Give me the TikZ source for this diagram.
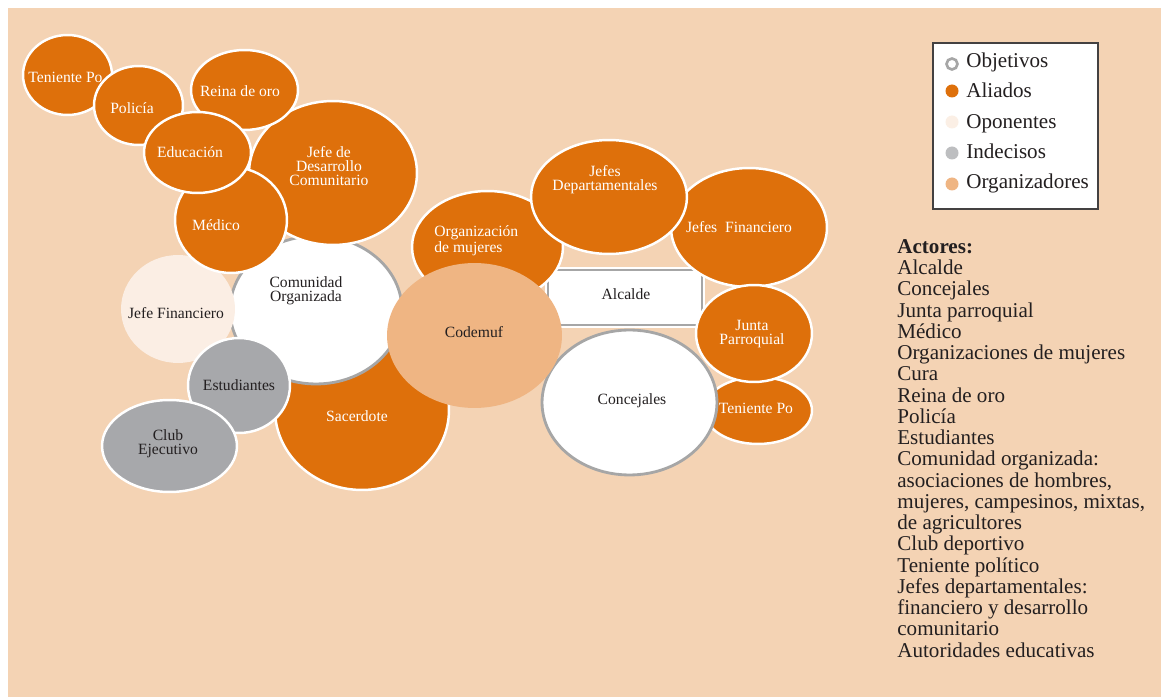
\documentclass[tikz,border=0pt]{standalone}
\usepackage{fontspec}
\setmainfont{Liberation Serif}
\usetikzlibrary{shapes.geometric}

\definecolor{fondo}{HTML}{F4D3B4}
\definecolor{naranja}{HTML}{DE700B}
\definecolor{crema}{HTML}{FBEEE4}
\definecolor{gris}{HTML}{A7A8AB}
\definecolor{durazno}{HTML}{EFB583}
\definecolor{borde}{HTML}{A6A6A6}
\definecolor{tinta}{HTML}{231F20}

\tikzset{
  bub/.style 2 args={ellipse, minimum width=#1*0.04cm, minimum height=#2*0.04cm, inner sep=0pt},
  aliado/.style={fill=naranja, draw=white, line width=1.4pt},
  objetivo/.style={fill=white, draw=borde, line width=1.6pt},
  oponente/.style={fill=crema},
  indeciso/.style={fill=gris, draw=white, line width=1.4pt},
  organizador/.style={fill=durazno},
  lbl/.style={align=center, inner sep=0pt, text=tinta, font=\fontsize{8.9}{7.9}\selectfont},
  lblw/.style={lbl, text=white},
  leyenda/.style={inner sep=0pt, text=tinta, font=\fontsize{12}{12.1}\selectfont},
  punto/.style={circle, inner sep=0pt, minimum size=13*0.02cm}
}

\begin{document}
\begin{tikzpicture}[x=0.02cm, y=-0.02cm]
  \useasboundingbox (0,0) rectangle (1161,699);
  \fill[fondo] (8,8) rectangle (1161,697);

  % burbujas, de atras hacia adelante
  \node[aliado, bub={87}{80}] (sac) at (362,410) {};
  \node[objetivo, bub={86}{74}] (com) at (316,310) {};
  \node[oponente, bub={57}{54}] (jfin) at (178,309) {};
  \node[aliado, bub={44.5}{40}] (tenA) at (67.5,75) {};
  \node[aliado, bub={44.5}{39.5}] (pol) at (138.5,105.5) {};
  \node[aliado, bub={84}{72}] (jdc) at (333,173) {};
  \node[aliado, bub={53.5}{40}] (reina) at (244.5,90) {};
  \node[aliado, bub={56}{53}] (med) at (231,220) {};
  \node[aliado, bub={53.5}{40.5}] (edu) at (197.5,152.5) {};
  \node[indeciso, bub={51}{47.5}] (est) at (239,385.5) {};
  \node[indeciso, bub={67.5}{46}] (club) at (169.5,446) {};
  \node[objetivo, line width=1.3pt, preaction={draw=white, line width=3.4pt}, rectangle, minimum width=154*0.02cm, minimum height=55*0.02cm] (alc) at (625,297.5) {};
  \node[aliado, bub={75.5}{56}] (omuj) at (487.5,247) {};
  \node[aliado, bub={78}{59.5}] (jfs) at (749,227.5) {};
  \node[aliado, bub={78}{57}] (jdep) at (609,197) {};
  \node[aliado, bub={54}{33.5}] (tenB) at (758,410.5) {};
  \node[aliado, bub={58}{48.5}] (junta) at (754,333.5) {};
  \node[objetivo, bub={87.5}{72.5}] (conc) at (629.5,402.5) {};
  \node[organizador, bub={87.5}{72.5}] (codemuf) at (474.5,335.5) {};

  % textos de las burbujas
  \node[lblw] (tSac) at (357,416) {Sacerdote};
  \node[lbl] (tCom) at (306,291) {Comunidad\\Organizada};
  \node[lbl] (tJfin) at (176,313) {Jefe Financiero};
  \node[lblw] (tTenA) at (65.5,77) {Teniente Po};
  \node[lblw] (tPol) at (132,108) {Policía};
  \node[lblw] (tJdc) at (329,166) {Jefe de\\Desarrollo\\Comunitario};
  \node[lblw] (tReina) at (240,91) {Reina de oro};
  \node[lblw] (tMed) at (216,225) {Médico};
  \node[lblw] (tEdu) at (190,152) {Educación};
  \node[lbl] (tEst) at (239,385) {Estudiantes};
  \node[lbl] (tClub) at (168,444) {Club\\Ejecutivo};
  \node[lblw, align=left, anchor=west] (tOmuj) at (434,241) {Organización\\de mujeres};
  \node[lblw] (tJfs) at (739,227) {Jefes\ \ Financiero};
  \node[lblw] (tJdep) at (605,180) {Jefes\\Departamentales};
  \node[lbl] (tAlc) at (626,294) {Alcalde};
  \node[lblw] (tTenB) at (756,408) {Teniente Po};
  \node[lblw] (tJunta) at (752,334) {Junta\\Parroquial};
  \node[lbl] (tConc) at (632,401) {Concejales};
  \node[lbl] (tCodemuf) at (474,332) {Codemuf};

  % leyenda
  \node[draw=tinta!85, fill=white, line width=0.6pt, minimum width=165*0.02cm, minimum height=166*0.02cm, inner sep=0pt] (ley) at (1015.5,126) {};
  \node[punto, fill=white, draw=borde, line width=1.5pt, minimum size=11*0.02cm] (dObj) at (952,64) {};
  \node[punto, fill=naranja] (dAli) at (952,91) {};
  \node[punto, fill=crema!60!durazno!40] (dOpo) at (952,122) {};
  \node[punto, fill=gris!75] (dInd) at (952,153) {};
  \node[punto, fill=durazno] (dOrg) at (952,184) {};
  \node[leyenda, anchor=base west] (tObj) at (966,68) {Objetivos};
  \node[leyenda, anchor=base west] (tAli) at (966,98) {Aliados};
  \node[leyenda, anchor=base west] (tOpo) at (966,129) {Oponentes};
  \node[leyenda, anchor=base west] (tInd) at (966,159) {Indecisos};
  \node[leyenda, anchor=base west] (tOrg) at (966,189) {Organizadores};

  % actores
  \node[leyenda, align=left, anchor=north west] (actores) at (897,239) {\textbf{Actores:}\\
    Alcalde\\
    Concejales\\
    Junta parroquial\\
    Médico\\
    Organizaciones de mujeres\\
    Cura\\
    Reina de oro\\
    Policía\\
    Estudiantes\\
    Comunidad organizada:\\
    asociaciones de hombres,\\
    mujeres, campesinos, mixtas,\\
    de agricultores\\
    Club deportivo\\
    Teniente político\\
    Jefes departamentales:\\
    financiero y desarrollo\\
    comunitario\\
    Autoridades educativas};
\end{tikzpicture}
\end{document}
